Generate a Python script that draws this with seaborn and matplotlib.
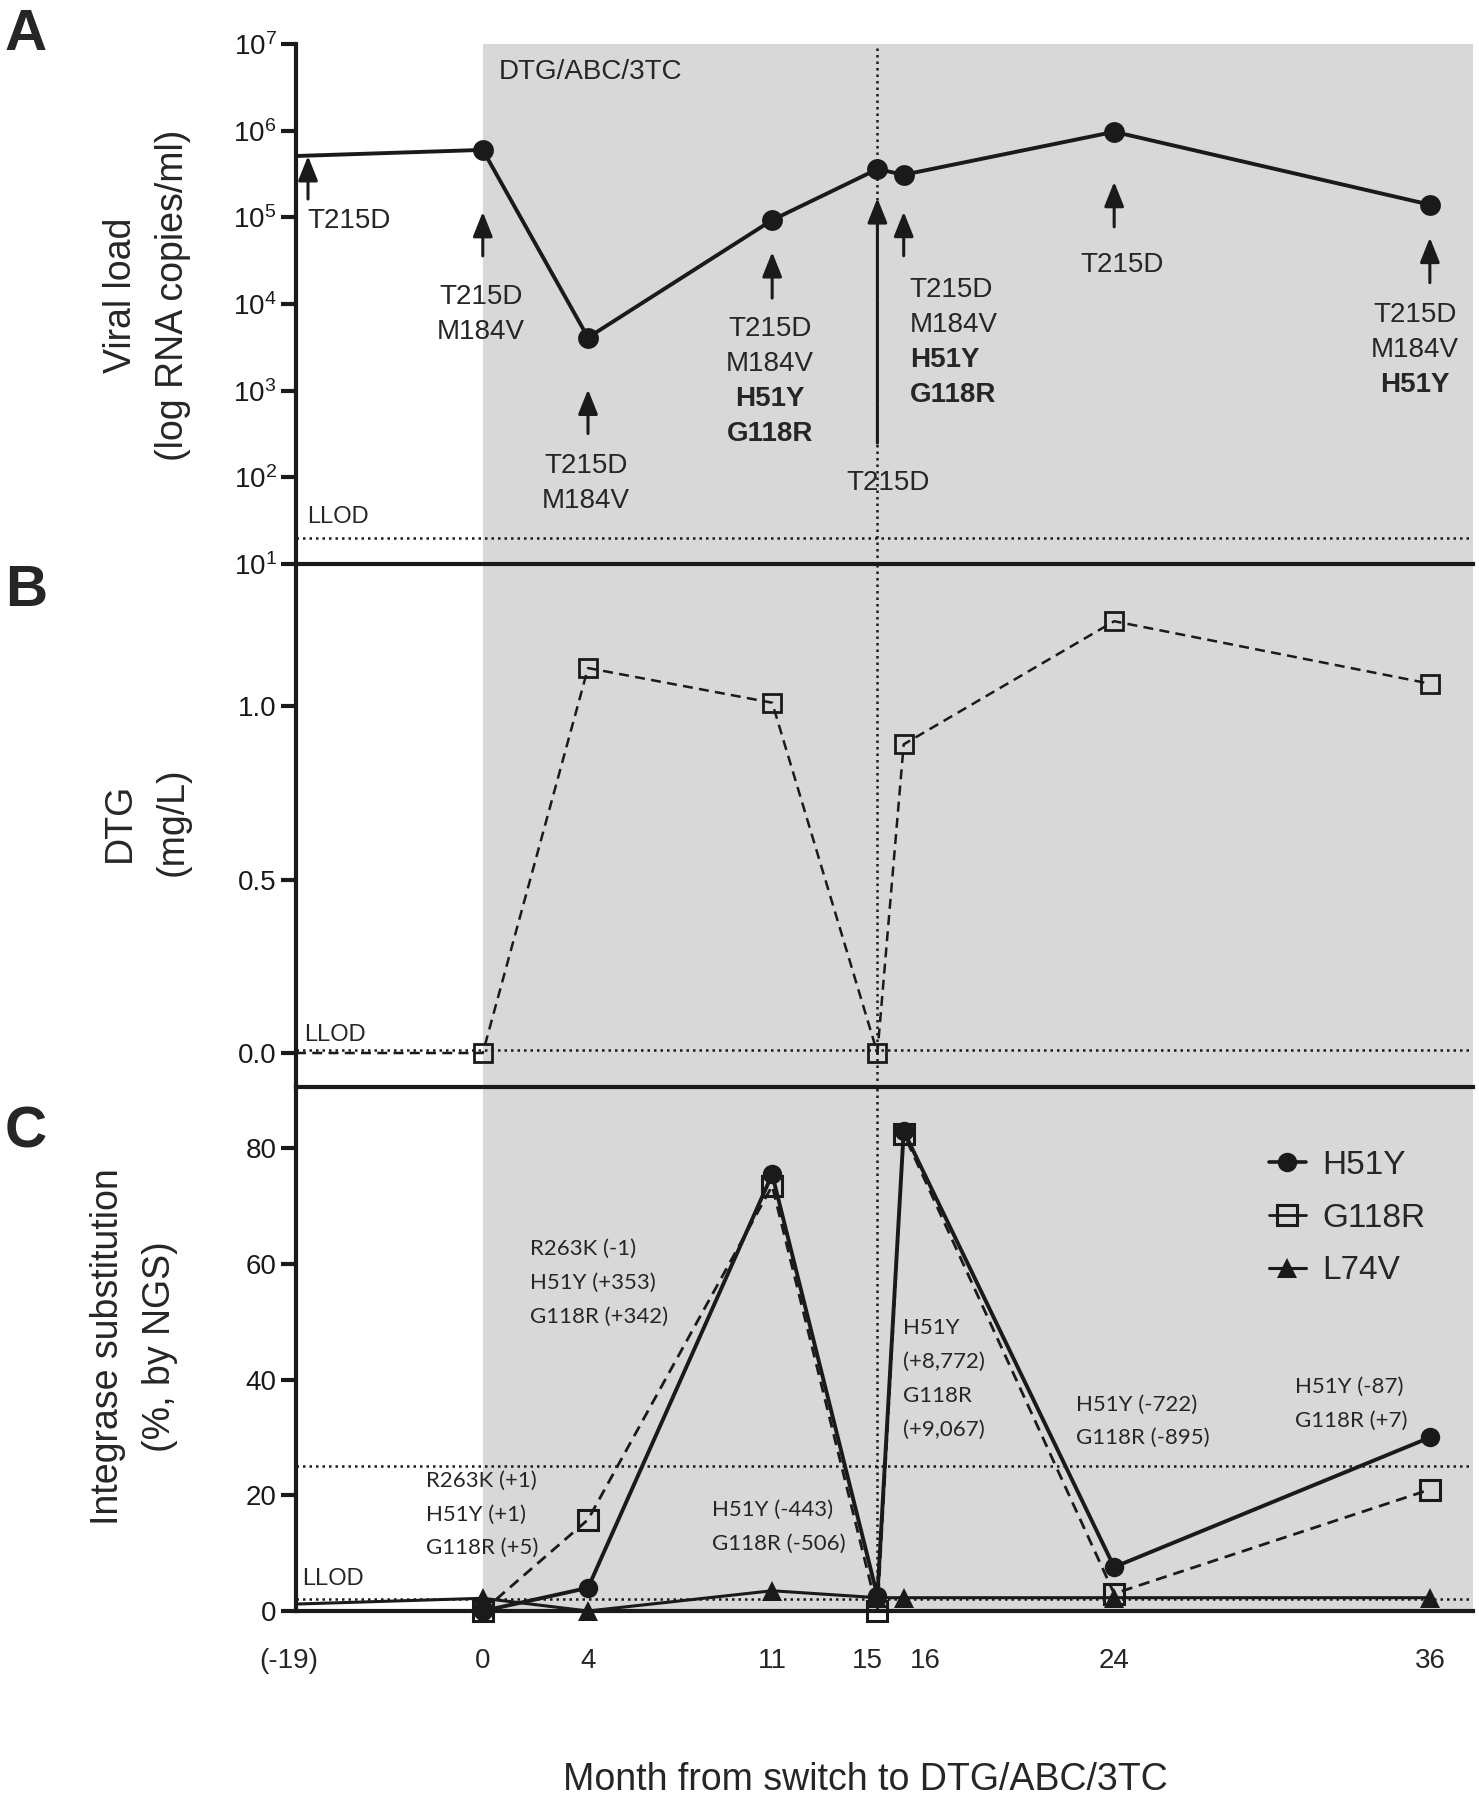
import matplotlib
matplotlib.use("Agg")
import matplotlib.pyplot as plt
import matplotlib.transforms as mtransforms
from matplotlib.lines import Line2D
from matplotlib.ticker import FixedLocator, LogFormatterMathtext, NullLocator, FormatStrFormatter
import pandas as pd
import seaborn as sns

# ---------------- data ----------------
months = [-19, 0, 4, 11, 15, 16, 24, 36]
month_labels = ["(-19)", "0", "4", "11", "15", "16", "24", "36"]

viral_load = [5.1e5, 6.0e5, 4.1e3, 9.3e4, 3.6e5, 3.1e5, 9.7e5, 1.4e5]
dtg_conc = [0.0, 0.0, 1.11, 1.01, 0.0, 0.89, 1.245, 1.065]

months_ngs = [0, 4, 11, 15, 16, 24, 36]
h51y = [0.0, 4.0, 75.5, 2.6, 83.0, 7.6, 30.0]
g118r = [0.0, 15.8, 73.5, 0.0, 82.5, 3.0, 21.0]
l74v = [1.2, 2.2, 0.0, 3.5, 2.3, 2.3, 2.3, 2.3]   # at `months`

llod_vl = 20
llod_dtg = 0.01
llod_ngs = 2
ngs_threshold = 25

vl_mutations = [
    [("T215D", False)],
    [("T215D", False), ("M184V", False)],
    [("T215D", False), ("M184V", False)],
    [("T215D", False), ("M184V", False), ("H51Y", True), ("G118R", True)],
    [("T215D", False)],
    [("T215D", False), ("M184V", False), ("H51Y", True), ("G118R", True)],
    [("T215D", False)],
    [("T215D", False), ("M184V", False), ("H51Y", True)],
]

ngs_notes = [
    "R263K (+1)\nH51Y (+1)\nG118R (+5)",
    "R263K (-1)\nH51Y (+353)\nG118R (+342)",
    "H51Y (-443)\nG118R (-506)",
    "H51Y\n(+8,772)\nG118R\n(+9,067)",
    "H51Y (-722)\nG118R (-895)",
    "H51Y (-87)\nG118R (+7)",
]
series_names = ["H51Y", "G118R", "L74V"]
regimen = "DTG/ABC/3TC"

# ---------------- layout / style ----------------
X_START, X_END = -7.1, 37.64
SHADE = "#d8d8d8"
DOT = (0, (1, 1.6))
DOT_LW = 1.8

def pos(m):
    return m if m >= 0 else X_START

# arrows: (dx, tip offset, tail offset) in pixels from the point
arrow_offsets = [(12, 0, -43), (0, -62, -106), (0, -52, -96), (0, -32, -78),
                 (0, -29, -274), (0, -37, -81), (0, -50, -95), (0, -33, -78)]
# label: (dx, first-baseline dy, ha)
label_offsets = [(11, -72, "left"), (-2, -154, "center"), (-2, -135, "center"),
                 (-2, -116, "center"), (11, -321, "center"), (6, -122, "left"),
                 (8, -140, "center"), (-15, -117, "center")]
LINE_STEP = 35
note_positions = [(-2.17, 16.7), (1.79, 56.7), (8.71, 14.6), (15.97, 40.1),
                  (22.55, 32.8), (30.87, 35.8)]

sns.set_theme(style="ticks")
plt.rcParams["font.family"] = ["Liberation Sans", "DejaVu Sans"]
plt.rcParams["mathtext.default"] = "regular"

fig = plt.figure(figsize=(14.79, 18), dpi=100)
fig.patch.set_facecolor("white")
L, W = 296 / 1479, 1177 / 1479
axA = fig.add_axes([L, 1 - 564 / 1800, W, 520 / 1800])
axB = fig.add_axes([L, 1 - 1087 / 1800, W, 523 / 1800])
axC = fig.add_axes([L, 1 - 1611 / 1800, W, 524 / 1800])
axA.set_zorder(3)
axB.set_zorder(2)
axC.set_zorder(1)

for ax in (axA, axB, axC):
    ax.set_facecolor("none")
    ax.axvspan(0, X_END, color=SHADE, lw=0, zorder=0)
    ax.axvline(15, color="k", ls=DOT, lw=DOT_LW, zorder=1)
    for s in ("top", "right"):
        ax.spines[s].set_visible(False)
    for s in ("left", "bottom"):
        ax.spines[s].set_linewidth(3)
        ax.spines[s].set_color("k")
        ax.spines[s].set_zorder(6)
    ax.tick_params(axis="y", direction="out", length=11, width=3, labelsize=20,
                   pad=3, color="k", labelcolor="k")
    ax.tick_params(axis="x", length=0)
    ax.set_xlim(X_START, X_END)
    ax.grid(False)

marks_from_1 = list(range(1, len(months)))
xs = [pos(m) for m in months]

# ---- Panel A ----
dfA = pd.DataFrame({"x": xs, "y": viral_load})
sns.lineplot(data=dfA, x="x", y="y", ax=axA, color="k", lw=2.8, errorbar=None,
             marker="o", markersize=15, markevery=marks_from_1,
             markerfacecolor="k", markeredgecolor="k", markeredgewidth=0, zorder=4)
axA.set_yscale("log")
axA.set_ylim(10, 1e7)
axA.yaxis.set_major_locator(FixedLocator([10 ** k for k in range(1, 8)]))
axA.yaxis.set_major_formatter(LogFormatterMathtext())
axA.yaxis.set_minor_locator(NullLocator())
axA.axhline(llod_vl, color="k", ls=DOT, lw=DOT_LW, zorder=1)
axA.annotate("LLOD", xy=(X_START, llod_vl), xytext=(11, 15), textcoords="offset pixels",
             fontsize=17, va="baseline", ha="left")
axA.annotate(regimen, xy=(0, 1), xycoords=("data", "axes fraction"), xytext=(16, -35),
             textcoords="offset pixels", fontsize=20, va="baseline", ha="left")

for i, m in enumerate(months):
    x, y = pos(m), viral_load[i]
    dx, tip, tail = arrow_offsets[i]
    tr = mtransforms.offset_copy(axA.transData, fig=fig, x=dx, y=tip, units="dots")
    axA.annotate("", xy=(x, y), xycoords=tr, xytext=(0, tail - tip),
                 textcoords="offset pixels",
                 arrowprops=dict(arrowstyle="-|>,head_length=0.75,head_width=0.3",
                                 color="k", lw=2.2, shrinkA=0, shrinkB=0,
                                 mutation_scale=20), zorder=5)
    ldx, ldy, ha = label_offsets[i]
    for j, (txt, bold) in enumerate(vl_mutations[i]):
        axA.annotate(txt, xy=(x, y), xytext=(ldx, ldy - j * LINE_STEP),
                     textcoords="offset pixels", fontsize=20, ha=ha, va="baseline",
                     fontweight="bold" if bold else "normal", zorder=5)

# ---- Panel B ----
dfB = pd.DataFrame({"x": xs, "y": dtg_conc})
sns.lineplot(data=dfB, x="x", y="y", ax=axB, color="k", lw=1.8, errorbar=None,
             linestyle=(0, (4, 2.5)), marker="s", markersize=13, markevery=marks_from_1,
             markerfacecolor="none", markeredgecolor="k", markeredgewidth=2,
             clip_on=False, zorder=4)
axB.set_ylim(-0.098, 1.41)
axB.set_yticks([0.0, 0.5, 1.0])
axB.yaxis.set_major_formatter(FormatStrFormatter("%.1f"))
axB.axhline(llod_dtg, color="k", ls=DOT, lw=DOT_LW, zorder=1)
axB.annotate("LLOD", xy=(X_START, llod_dtg), xytext=(8, 9), textcoords="offset pixels",
             fontsize=17, va="baseline", ha="left")

# ---- Panel C ----
dfH = pd.DataFrame({"x": [pos(m) for m in months_ngs], "y": h51y})
dfG = pd.DataFrame({"x": [pos(m) for m in months_ngs], "y": g118r})
dfL = pd.DataFrame({"x": xs, "y": l74v})
sns.lineplot(data=dfL, x="x", y="y", ax=axC, color="k", lw=2.2, errorbar=None,
             marker="^", markersize=14, markevery=marks_from_1,
             markerfacecolor="k", markeredgecolor="k", markeredgewidth=0,
             clip_on=False, zorder=3)
sns.lineplot(data=dfG, x="x", y="y", ax=axC, color="k", lw=2.0, errorbar=None,
             linestyle=(0, (4, 2.5)), marker="s", markersize=14,
             markerfacecolor="none", markeredgecolor="k", markeredgewidth=2.2,
             clip_on=False, zorder=4)
sns.lineplot(data=dfH, x="x", y="y", ax=axC, color="k", lw=2.8, errorbar=None,
             marker="o", markersize=14, markerfacecolor="k", markeredgecolor="k",
             markeredgewidth=0, clip_on=False, zorder=5)
axC.set_ylim(0, 90.6)
axC.set_yticks([0, 20, 40, 60, 80])
axC.axhline(llod_ngs, color="k", ls=DOT, lw=DOT_LW, zorder=1)
axC.axhline(ngs_threshold, color="k", ls=DOT, lw=DOT_LW, zorder=1)
axC.annotate("LLOD", xy=(X_START, llod_ngs), xytext=(6, 14), textcoords="offset pixels",
             fontsize=17, va="baseline", ha="left")
for txt, (nx, ny) in zip(ngs_notes, note_positions):
    axC.text(nx, ny, txt, fontsize=16, family=["Lato", "DejaVu Sans"], ha="left",
             va="center", linespacing=1.86, zorder=6)

handles = [
    Line2D([], [], color="k", lw=2.6, marker="o", markersize=14, markerfacecolor="k",
           markeredgewidth=0),
    Line2D([], [], color="k", lw=2.0, marker="s", markersize=14, markerfacecolor="none",
           markeredgecolor="k", markeredgewidth=2.2),
    Line2D([], [], color="k", lw=2.2, marker="^", markersize=14, markerfacecolor="k",
           markeredgewidth=0),
]
axC.legend(handles, series_names, loc="upper left", bbox_to_anchor=(1269 / 1479, 1 - 1150 / 1800),
           bbox_transform=fig.transFigure, frameon=False, fontsize=24, handlelength=1.1,
           handletextpad=0.5, labelspacing=0.65, borderpad=0, borderaxespad=0)

# x axis ticks
axA.tick_params(axis="x", labelbottom=False)
axB.tick_params(axis="x", labelbottom=False)
axC.set_xticks(xs)
axC.set_xticklabels(month_labels)
axC.tick_params(axis="x", length=0, labelsize=20, pad=27)
shift = {"(-19)": -7, "15": -10, "16": 22}
for lab in axC.get_xticklabels():
    dxp = shift.get(lab.get_text(), 0)
    if dxp:
        lab.set_transform(lab.get_transform() +
                          mtransforms.ScaledTranslation(dxp / 100, 0, fig.dpi_scale_trans))
for ax in (axA, axB, axC):
    ax.set_xlabel("")
    ax.set_ylabel("")

# axis titles
fig.text(147 / 1479, 1 - 295 / 1800, "Viral load\n(log RNA copies/ml)", rotation=90,
         ha="center", va="center", multialignment="center", fontsize=27, linespacing=1.6)
fig.text(146 / 1479, 1 - 822 / 1800, "DTG\n(mg/L)", rotation=90,
         ha="center", va="center", multialignment="center", fontsize=27, linespacing=1.6)
fig.text(134 / 1479, 1 - 1347 / 1800, "Integrase substitution\n(%, by NGS)", rotation=90,
         ha="center", va="center", multialignment="center", fontsize=27, linespacing=1.6)
fig.text(865 / 1479, 1 - 1790 / 1800, "Month from switch to DTG/ABC/3TC", ha="center",
         va="baseline", fontsize=27)

# panel letters
for letter, base in (("A", 50), ("B", 606), ("C", 1148)):
    fig.text(5 / 1479, 1 - base / 1800, letter, fontsize=42, fontweight="bold",
             ha="left", va="baseline")

fig.savefig("out.png", dpi=100)
